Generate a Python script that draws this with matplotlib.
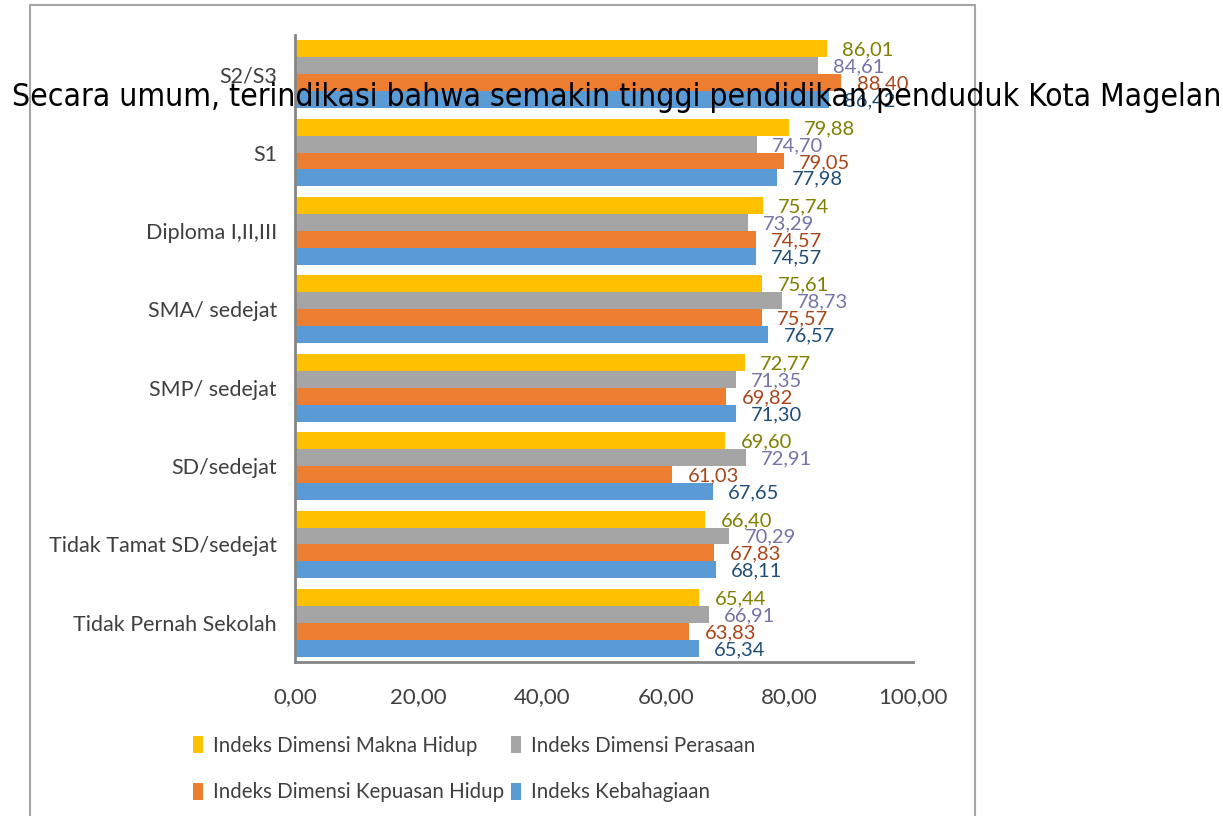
import matplotlib
matplotlib.use("Agg")
import matplotlib.pyplot as plt
import numpy as np
from matplotlib.patches import Rectangle

categories = ["Tidak Pernah Sekolah", "Tidak Tamat SD/sedejat", "SD/sedejat",
              "SMP/ sedejat", "SMA/ sedejat", "Diploma I,II,III", "S1", "S2/S3"]
makna_hidup = [65.44, 66.40, 69.60, 72.77, 75.61, 75.74, 79.88, 86.01]
perasaan = [66.91, 70.29, 72.91, 71.35, 78.73, 73.29, 74.70, 84.61]
kepuasan_hidup = [63.83, 67.83, 61.03, 69.82, 75.57, 74.57, 79.05, 88.40]
kebahagiaan = [65.34, 68.11, 67.65, 71.30, 76.57, 74.57, 77.98, 86.42]
series_names = ["Indeks Dimensi Makna Hidup", "Indeks Dimensi Perasaan",
                "Indeks Dimensi Kepuasan Hidup", "Indeks Kebahagiaan"]
xticks = [0, 20, 40, 60, 80, 100]
overlay_text = "Secara umum, terindikasi bahwa semakin tinggi pendidikan penduduk Kota Magelan"

series = [makna_hidup, perasaan, kepuasan_hidup, kebahagiaan]
bar_colors = ["#FFC000", "#A5A5A5", "#ED7D31", "#5B9BD5"]
label_colors = ["#7F7F00", "#7474A8", "#A8461A", "#1F4E79"]

plt.rcParams['font.family'] = ['Lato', 'DejaVu Sans']

fig = plt.figure(figsize=(12.23, 8.16), dpi=100)
ax = fig.add_axes([295/1223, 1-662/816, (913-295)/1223, (662-35)/816])

# outer chart border
fig.patches.append(Rectangle((30/1223, -0.02), (975-30)/1223, 1.02 - 5/816,
                             transform=fig.transFigure, fill=False,
                             edgecolor="#A6A6A6", linewidth=1.5))

y = np.arange(len(categories))
h = 0.216
offsets = [1.5*h, 0.5*h, -0.5*h, -1.5*h]
bar_handles = []
for vals, off, col, lcol, name in zip(series, offsets, bar_colors, label_colors, series_names):
    bars = ax.barh(y + off, vals, height=h, color=col, label=name)
    bar_handles.append(bars)
    for yy, v in zip(y + off, vals):
        ax.annotate(f"{v:.2f}".replace(".", ","), (v, yy), xytext=(11, -1),
                    textcoords="offset points", ha="left", va="center",
                    fontsize=14.5, color=lcol)

ax.set_xlim(0, 100)
ax.set_ylim(-0.5, len(categories) - 0.5)
ax.set_yticks(y)
ax.set_yticklabels(categories, fontsize=15.5, color="#404040")
ax.set_xticks(xticks)
ax.set_xticklabels([f"{t:.2f}".replace(".", ",") for t in xticks], fontsize=16, color="#404040")
ax.tick_params(axis="both", length=0)
ax.tick_params(axis="y", pad=13)
ax.tick_params(axis="x", pad=18)
for s in ["top", "right"]:
    ax.spines[s].set_visible(False)
for s in ["left", "bottom"]:
    ax.spines[s].set_color("#868686")
    ax.spines[s].set_linewidth(2)

# legend: row 1 = Makna Hidup, Perasaan; row 2 = Kepuasan Hidup, Kebahagiaan
order = [0, 2, 1, 3]
leg = fig.legend([bar_handles[i] for i in order], [series_names[i] for i in order],
                 ncol=2, loc="center",
                 bbox_to_anchor=(474/1223, 1-769/816), frameon=False,
                 fontsize=14.8, handlelength=0.5, handleheight=0.9,
                 handletextpad=0.5, columnspacing=0.3, labelspacing=1.3)
for t in leg.get_texts():
    t.set_color("#404040")

# overlay sentence, sized to span the reference width
txt = fig.text(12/1223, 1-106/816, overlay_text, fontsize=20, color="black",
               family=["DejaVu Sans"], fontstretch="condensed",
               ha="left", va="baseline")
fig.canvas.draw()
w = txt.get_window_extent().width
txt.set_fontsize(20 * (1217 - 12) / w)

fig.savefig("out.png", dpi=100)
